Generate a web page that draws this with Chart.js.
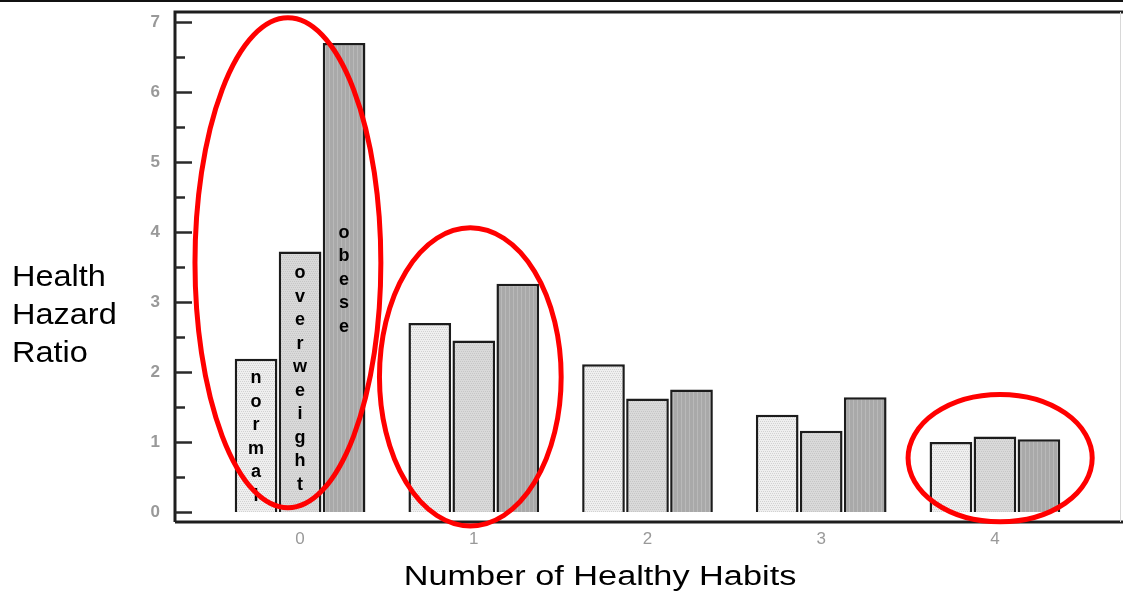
<!DOCTYPE html>
<html>
<head>
<meta charset="utf-8">
<script src="https://cdn.jsdelivr.net/npm/chart.js@4/dist/chart.umd.min.js"></script>
<style>
  html, body { margin: 0; padding: 0; background: #fff; }
  #holder { width: 1123px; height: 594px; position: relative; }
</style>
</head>
<body>
<div id="holder"><canvas id="hazard_chart"></canvas></div>
<script>
// number of healthy habits on the x axis
var habits = [0, 1, 2, 3, 4];
var normal_ratio = [2.19, 2.70, 2.11, 1.39, 1.00];
var overweight_ratio = [3.72, 2.45, 1.62, 1.16, 1.08];
var obese_ratio = [6.70, 3.26, 1.75, 1.64, 1.04];
var y_tick_values = [0, 1, 2, 3, 4, 5, 6, 7];

// words written down inside the three bars of group 0, and where the first letter sits
var bar_words = ["normal", "overweight", "obese"];
var bar_word_start = [1.91, 3.41, 3.99];

// red circled groups, in data units (centre x, centre y, radius x, radius y)
var ring_cx = [-0.07, 0.98, 4.03];
var ring_cy = [3.56, 1.93, 0.77];
var ring_rx = [0.535, 0.523, 0.53];
var ring_ry = [3.50, 2.13, 0.91];

var FONT = "'Liberation Sans', Arial, Helvetica, sans-serif";

// small textures so the bars look like the scanned print
function make_texture(base, dot, vertical){
    var c = document.createElement("canvas");
    c.width = 4; c.height = 4;
    var g = c.getContext("2d");
    g.fillStyle = base;
    g.fillRect(0, 0, 4, 4);
    g.fillStyle = dot;
    if(vertical){
        g.fillRect(1, 0, 1, 4);
    } else {
        g.fillRect(0, 1, 1, 1);
        g.fillRect(2, 1, 1, 1);
        g.fillRect(1, 3, 1, 1);
        g.fillRect(3, 3, 1, 1);
    }
    return document.getElementById("hazard_chart").getContext("2d").createPattern(c, "repeat");
}

function to_points(values){
    return values.map(function(v, i){ return {x: habits[i], y: v}; });
}

var decorations = {
    id: "decorations",
    beforeDraw: function(chart){
        var ctx = chart.ctx;
        ctx.save();
        ctx.fillStyle = "#fff";
        ctx.fillRect(0, 0, chart.width, chart.height);
        ctx.restore();
    },
    afterDatasetsDraw: function(chart){
        var ctx = chart.ctx;
        var area = chart.chartArea;
        var xs = chart.scales.x, ys = chart.scales.y;
        ctx.save();

        // frame round the plot
        ctx.strokeStyle = "#1e1e1e";
        ctx.lineWidth = 3;
        ctx.beginPath();
        ctx.moveTo(area.left, area.bottom);
        ctx.lineTo(area.left, area.top);
        ctx.lineTo(chart.width, area.top);
        ctx.moveTo(area.left, area.bottom);
        ctx.lineTo(chart.width, area.bottom);
        ctx.stroke();
        ctx.lineWidth = 1;
        ctx.strokeStyle = "#d8d8d8";
        ctx.beginPath();
        ctx.moveTo(area.right + 0.5, area.top);
        ctx.lineTo(area.right + 0.5, area.bottom);
        ctx.stroke();

        // the black rule at the very top of the slide
        ctx.strokeStyle = "#111";
        ctx.lineWidth = 2;
        ctx.beginPath();
        ctx.moveTo(0, 1);
        ctx.lineTo(chart.width, 1);
        ctx.stroke();

        // inward tick marks on the y axis
        ctx.strokeStyle = "#2a2a2a";
        ctx.lineWidth = 2.5;
        for(var v = 0; v <= 7; v += 0.5){
            var py = Math.round(ys.getPixelForValue(v)) + 0.5;
            var len = (v % 1 === 0) ? 17 : 10;
            ctx.beginPath();
            ctx.moveTo(area.left, py);
            ctx.lineTo(area.left + len, py);
            ctx.stroke();
        }

        // vertical words in the first group of bars
        ctx.fillStyle = "#000";
        ctx.font = "bold 18px " + FONT;
        ctx.textAlign = "center";
        ctx.textBaseline = "middle";
        for(var d = 0; d < bar_words.length; d++){
            var bar = chart.getDatasetMeta(d).data[0];
            var y0 = ys.getPixelForValue(bar_word_start[d]);
            var word = bar_words[d];
            for(var k = 0; k < word.length; k++){
                ctx.fillText(word[k], bar.x, y0 + k * 23.5);
            }
        }

        // red rings
        ctx.strokeStyle = "#ff0000";
        ctx.lineWidth = 5;
        for(var r = 0; r < ring_cx.length; r++){
            var cx = xs.getPixelForValue(ring_cx[r]);
            var cy = ys.getPixelForValue(ring_cy[r]);
            var rx = Math.abs(xs.getPixelForValue(ring_cx[r] + ring_rx[r]) - cx);
            var ry = Math.abs(ys.getPixelForValue(ring_cy[r] + ring_ry[r]) - cy);
            ctx.beginPath();
            ctx.ellipse(cx, cy, rx, ry, 0, 0, Math.PI * 2);
            ctx.stroke();
        }

        // axis titles (the slide image is stretched sideways a little)
        ctx.fillStyle = "#000";
        ctx.textAlign = "left";
        ctx.textBaseline = "alphabetic";
        ctx.font = "29px " + FONT;
        var left_title = ["Health", "Hazard", "Ratio"];
        for(var t = 0; t < left_title.length; t++){
            ctx.save();
            ctx.translate(12, 286 + t * 38);
            ctx.scale(1.12, 1);
            ctx.fillText(left_title[t], 0, 0);
            ctx.restore();
        }
        ctx.save();
        ctx.font = "27px " + FONT;
        ctx.translate(600, 585);
        ctx.scale(1.27, 1);
        ctx.textAlign = "center";
        ctx.fillText("Number of Healthy Habits", 0, 0);
        ctx.restore();

        ctx.restore();
    }
};

var chart_data = {
    type: "bar",
    data: {
        datasets: [
            { label: "normal", data: to_points(normal_ratio), backgroundColor: make_texture("#efefef", "#d2d2d2", false) },
            { label: "overweight", data: to_points(overweight_ratio), backgroundColor: make_texture("#d9d9d9", "#c6c6c6", false) },
            { label: "obese", data: to_points(obese_ratio), backgroundColor: make_texture("#a9a9a9", "#b9b9b9", true) }
        ]
    },
    options: {
        responsive: true,
        maintainAspectRatio: false,
        animation: false,
        layout: { padding: { top: 12, right: 3, left: 0, bottom: 0 } },
        datasets: {
            bar: {
                borderColor: "#1c1c1c",
                borderWidth: 2.5,
                categoryPercentage: 0.76,
                barPercentage: 0.97
            }
        },
        plugins: {
            legend: { display: false },
            tooltip: { enabled: false }
        },
        scales: {
            x: {
                type: "linear",
                min: -0.72,
                max: 4.72,
                offset: false,
                grid: { display: false, drawTicks: false, offset: false },
                border: { display: false },
                afterBuildTicks: function(scale){
                    scale.ticks = habits.map(function(h){ return {value: h}; });
                },
                afterFit: function(scale){
                    scale.height = 72;
                    scale.paddingLeft = 0;
                    scale.paddingRight = 0;
                },
                ticks: {
                    padding: 7,
                    color: "#999",
                    font: { family: FONT, size: 17 },
                    callback: function(v){ return String(v); }
                }
            },
            y: {
                min: -0.143,
                max: 7.143,
                grid: { display: false, drawTicks: false },
                border: { display: false },
                afterBuildTicks: function(scale){
                    scale.ticks = y_tick_values.map(function(v){ return {value: v}; });
                },
                afterFit: function(scale){
                    scale.width = 175;
                    scale.paddingTop = 0;
                    scale.paddingBottom = 0;
                },
                ticks: {
                    padding: 15,
                    color: "#999",
                    font: { family: FONT, size: 17, weight: "bold" },
                    callback: function(v){ return String(v); }
                }
            }
        }
    },
    plugins: [decorations]
};

var hazard_chart = new Chart(document.getElementById("hazard_chart").getContext("2d"), chart_data);
</script>
</body>
</html>
